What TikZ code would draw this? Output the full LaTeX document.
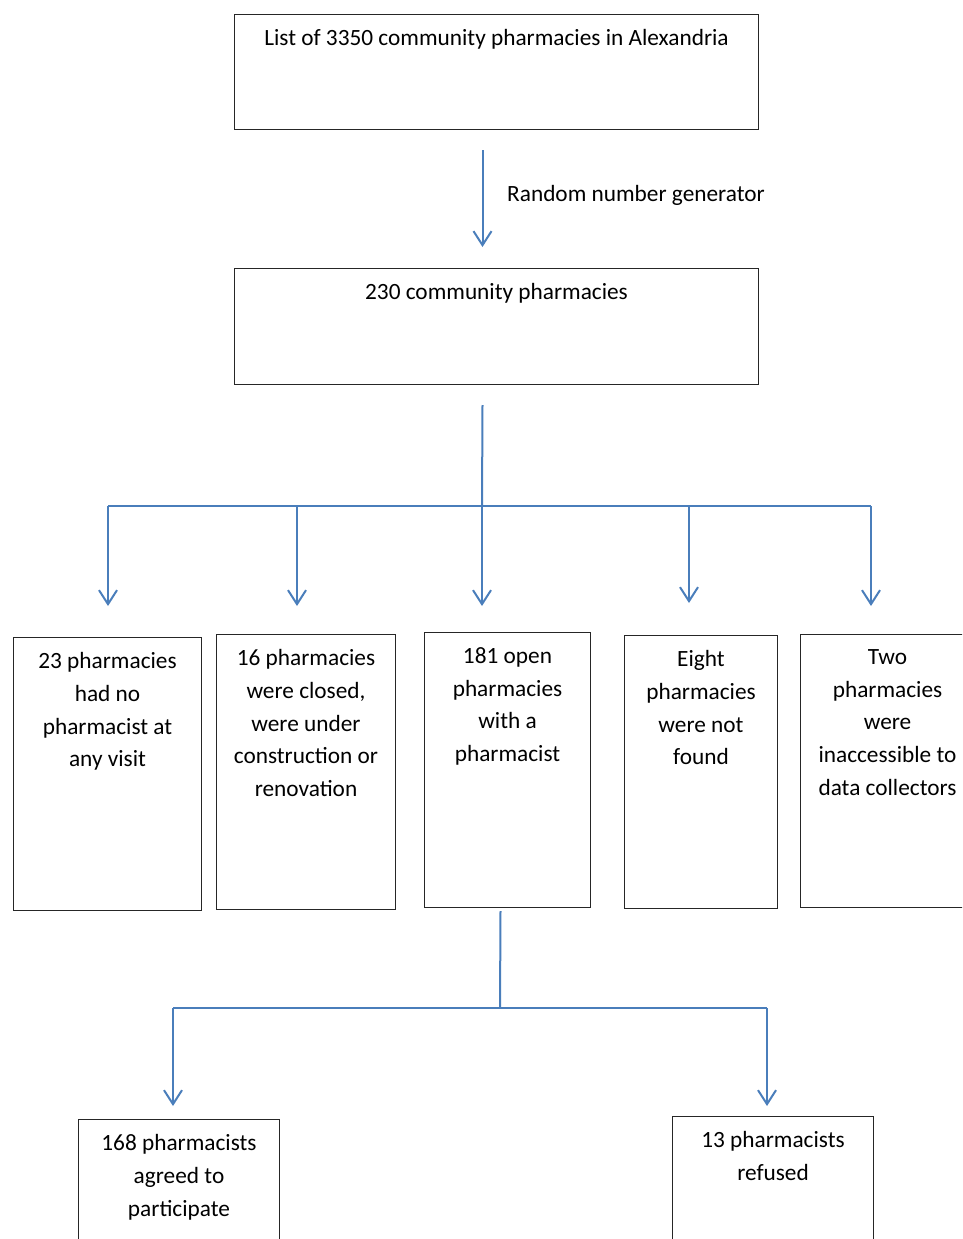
\documentclass[tikz,border=0pt]{standalone}
\usepackage{fontspec}
\setmainfont{Carlito}
\usetikzlibrary{arrows.meta}
\definecolor{arrblue}{RGB}{74,126,187}
\begin{document}
\begin{tikzpicture}[x=1pt,y=-1pt,
  box/.style={draw=black!85, line width=1pt, anchor=north west, inner sep=0pt},
  txt/.style={anchor=north, align=center, inner sep=0pt, font=\fontsize{23.3}{32.7}\selectfont},
  lbl/.style={anchor=west, inner sep=0pt, font=\fontsize{23.3}{32.7}\selectfont},
  ln/.style={draw=arrblue, line width=2pt},
  arr/.style={draw=arrblue, line width=2pt, -{Straight Barb[length=14pt,width=18pt,line width=2pt]}}]
\useasboundingbox (0,0) rectangle (962,1239);
\clip (0,0) rectangle (962,1239);
% boxes
\node[box, minimum width=524pt, minimum height=115pt] (b1) at (234,14) {};
\node[box, minimum width=524pt, minimum height=116pt] (b2) at (234,268) {};
\node[box, minimum width=188pt, minimum height=273pt] (bA) at (13,637) {};
\node[box, minimum width=179pt, minimum height=275pt] (bB) at (216,634) {};
\node[box, minimum width=166pt, minimum height=275pt] (bC) at (424,632) {};
\node[box, minimum width=153pt, minimum height=273pt] (bD) at (624,635) {};
\node[box, minimum width=174pt, minimum height=273pt] (bE) at (800,634) {};
\node[box, minimum width=201pt, minimum height=200pt] (bF) at (78,1119) {};
\node[box, minimum width=201pt, minimum height=200pt] (bG) at (672,1116) {};
% texts
\node[txt] (t1) at ([yshift=-15.3pt]b1.north) {List of 3350 community pharmacies in Alexandria};
\node[txt] (t2) at ([yshift=-15.3pt]b2.north) {230 community pharmacies};
\node[txt] (tA) at ([yshift=-15.3pt]bA.north) {23 pharmacies\\had no\\pharmacist at\\any visit};
\node[txt] (tB) at ([yshift=-15.3pt]bB.north) {16 pharmacies\\were closed,\\were under\\construction or\\renovation};
\node[txt] (tC) at ([yshift=-15.3pt]bC.north) {181 open\\pharmacies\\with a\\pharmacist};
\node[txt] (tD) at ([yshift=-15.3pt]bD.north) {Eight\\pharmacies\\were not\\found};
\node[txt] (tE) at ([yshift=-15.3pt]bE.north) {Two\\pharmacies\\were\\inaccessible to\\data collectors};
\node[txt] (tF) at ([yshift=-15.3pt]bF.north) {168 pharmacists\\agreed to\\participate};
\node[txt] (tG) at ([yshift=-15.3pt]bG.north) {13 pharmacists\\refused};
\node[lbl] (rng) at (507,195) {Random number generator};
% connectors
\draw[arr] ([xshift=-14pt,yshift=-20pt]b1.south) -- ([xshift=-14pt,yshift=21pt]b2.north);
\coordinate (j1) at (482,506);
\coordinate (jA) at (108,506);
\coordinate (jB) at (297,506);
\coordinate (jD) at (689,506);
\coordinate (jE) at (871,506);
\draw[ln] ([xshift=-14pt,yshift=-20pt]b2.south) -- (j1);
\draw[ln] (jA) -- (jE);
\draw[arr, shorten >=31pt] (jA) -- (jA |- bA.north);
\draw[arr, shorten >=28pt] (jB) -- (jB |- bB.north);
\draw[arr, shorten >=26pt] (j1) -- (j1 |- bC.north);
\draw[arr, shorten >=32pt] (jD) -- (jD |- bD.north);
\draw[arr, shorten >=28pt] (jE) -- (jE |- bE.north);
\coordinate (j2) at (500,1008);
\coordinate (jF) at (173,1008);
\coordinate (jG) at (767,1008);
\draw[ln] ([xshift=-7pt,yshift=-3pt]bC.south) -- (j2);
\draw[ln] (jF) -- (jG);
\draw[arr, shorten >=13pt] (jF) -- (jF |- bF.north);
\draw[arr, shorten >=10pt] (jG) -- (jG |- bG.north);
\end{tikzpicture}
\end{document}
